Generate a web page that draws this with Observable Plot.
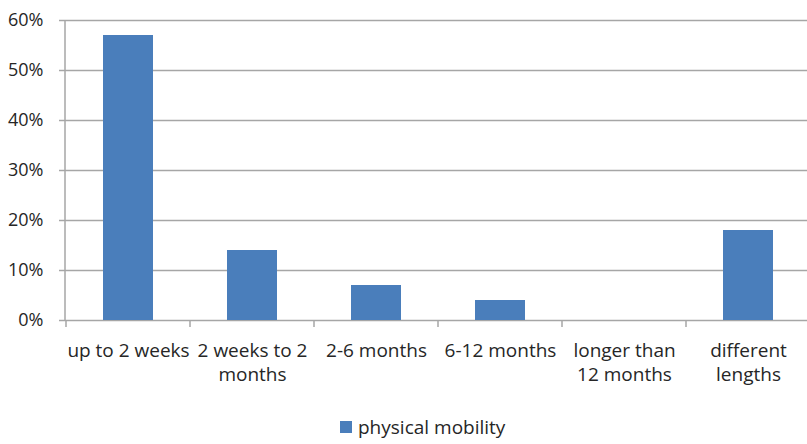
<!DOCTYPE html>
<html><head><meta charset="utf-8">
<script src="https://cdn.jsdelivr.net/npm/d3@7"></script>
<script src="https://cdn.jsdelivr.net/npm/@observablehq/plot@0.6"></script>
<style>
body{margin:0;background:#fff;font-family:"Open Sans",sans-serif;overflow:hidden}
#legend{display:flex;align-items:center;height:44px;padding-top:5px;padding-left:340px;font-size:19px;color:#262626}
#legend .sw{width:12px;height:12px;background:#4a7ebb;margin-right:6px;display:inline-block}
</style></head><body><div id="chart"></div><div id="legend"></div>
<script>
const categories = ["up to 2 weeks", "2 weeks to 2\nmonths", "2-6 months", "6-12 months", "longer than\n12 months", "different\nlengths"];
const values = [0.57, 0.14, 0.07, 0.04, 0, 0.18];
const yTicks = [0, 0.1, 0.2, 0.3, 0.4, 0.5, 0.6];
const seriesName = "physical mobility";

const barColor = "#4a7ebb";
const gridColor = "#a6a6a6";
const textColor = "#262626";
const data = categories.map((c, i) => ({category: c, value: values[i]}));

function frameTicks(index, scales, vals, dims) {
  const x = scales.x;
  const cats = x.domain();
  const step = x(cats[1]) - x(cats[0]);
  const bw = typeof x.bandwidth === "function" ? x.bandwidth() : 0.4 * step;
  const base = dims.height - dims.marginBottom;
  const bounds = cats.map(c => x(c) + bw / 2 - step / 2);
  bounds.push(x(cats[cats.length - 1]) + bw / 2 + step / 2);
  const g = d3.create("svg:g").attr("stroke", gridColor).attr("stroke-width", 1.5);
  g.selectAll("line.t").data(bounds).join("line")
    .attr("x1", d => d).attr("x2", d => d).attr("y1", base).attr("y2", base + 7);
  g.append("line").attr("x1", dims.marginLeft).attr("x2", dims.marginLeft)
    .attr("y1", dims.marginTop).attr("y2", base);
  return g.node();
}

const chart = Plot.plot({
  width: 807,
  height: 400,
  marginLeft: 65,
  marginRight: -4,
  marginTop: 20,
  marginBottom: 80,
  style: {fontFamily: "'Open Sans', sans-serif", fontSize: "18px", color: textColor, background: "#fff"},
  x: {domain: categories, paddingInner: 0.6, paddingOuter: 0.3, label: null},
  y: {domain: [0, 0.6], label: null},
  marks: [
    Plot.gridY(yTicks, {stroke: gridColor, strokeOpacity: 1, strokeWidth: 1.5}),
    Plot.axisY({ticks: yTicks, tickFormat: d3.format(".0%"), tickSize: 6, tickPadding: 16, stroke: gridColor, strokeWidth: 1.5, fill: textColor, label: null, fontSize: 18}),
    Plot.axisX({tickSize: 0, tickPadding: 20, lineHeight: 1.25, fill: textColor, label: null, fontSize: 19}),
    Plot.barY(data, {x: "category", y: "value", fill: barColor}),
    frameTicks
  ]
});
document.getElementById("chart").appendChild(chart);
const lg = document.getElementById("legend");
lg.innerHTML = `<span class="sw"></span><span>${seriesName}</span>`;
</script>
</body></html>
